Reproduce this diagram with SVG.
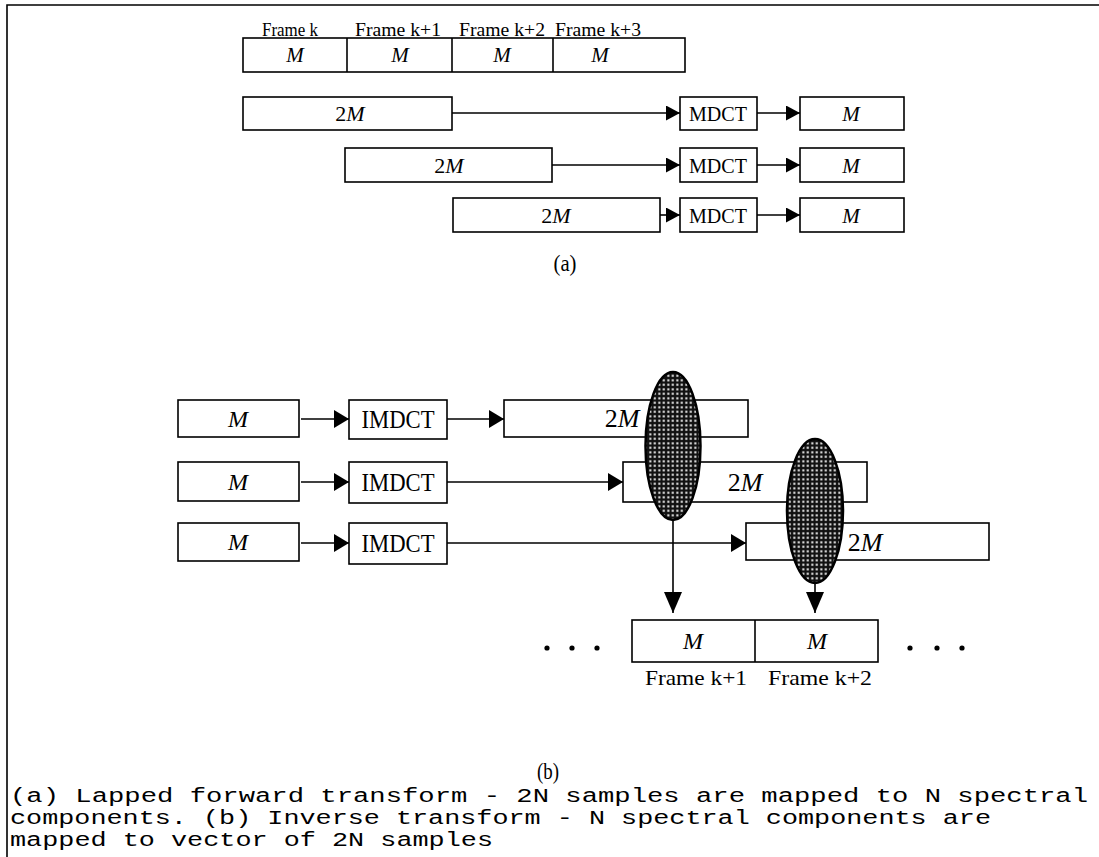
<svg xmlns="http://www.w3.org/2000/svg" width="1099" height="857" viewBox="0 0 1099 857">
<defs>
<style>
.box{fill:#fff;stroke:#000;stroke-width:1.6}
.ln{fill:none;stroke:#000;stroke-width:1.6}
.t{font-family:"Liberation Serif","Times New Roman",serif;fill:#000;text-anchor:middle}
.i{font-style:italic}
.cap{font-family:"Liberation Mono","Courier New",monospace;font-size:19.5px;fill:#000}
</style>
<marker id="ah" markerUnits="userSpaceOnUse" markerWidth="14" markerHeight="15" viewBox="0 0 14 15" refX="14" refY="7.5" orient="auto">
<path d="M0,0 L14,7.5 L0,15 z" fill="#000"/>
</marker>
<marker id="ahb" markerUnits="userSpaceOnUse" markerWidth="15" markerHeight="18" viewBox="0 0 15 18" refX="15" refY="9" orient="auto">
<path d="M0,0 L15,9 L0,18 z" fill="#000"/>
</marker>
<marker id="ahv" markerUnits="userSpaceOnUse" markerWidth="21" markerHeight="18" viewBox="0 0 21 18" refX="21" refY="9" orient="auto">
<path d="M0,0 L21,9 L0,18 z" fill="#000"/>
</marker>
<pattern id="hatch" width="4.5" height="4.5" patternUnits="userSpaceOnUse">
<rect width="4.5" height="4.5" fill="#111"/>
<rect x="1.3" y="1.3" width="2" height="2" fill="#fff"/>
</pattern>
</defs>
<rect width="1099" height="857" fill="#fff"/>
<g id="frame-border" class="ln"><path d="M1099,5 L7,5 L7,857"/></g>

<g id="top-frames">
<rect class="box" x="243" y="38" width="442" height="34"/>
<line class="ln" x1="347" y1="38" x2="347" y2="72"/>
<line class="ln" x1="452" y1="38" x2="452" y2="72"/>
<line class="ln" x1="553" y1="38" x2="553" y2="72"/>
<text class="t" x="290" y="36" font-size="19" textLength="56" lengthAdjust="spacingAndGlyphs">Frame k</text>
<text class="t" x="398" y="36" font-size="19" textLength="86" lengthAdjust="spacingAndGlyphs">Frame k+1</text>
<text class="t" x="502" y="36" font-size="19" textLength="86" lengthAdjust="spacingAndGlyphs">Frame k+2</text>
<text class="t" x="598" y="36" font-size="19" textLength="86" lengthAdjust="spacingAndGlyphs">Frame k+3</text>
<text class="t i" x="295" y="62" font-size="21">M</text>
<text class="t i" x="400" y="62" font-size="21">M</text>
<text class="t i" x="502" y="62" font-size="21">M</text>
<text class="t i" x="600" y="62" font-size="21">M</text>
</g>

<g id="a-in1"><rect class="box" x="243" y="97" width="209" height="33"/><text class="t" x="350" y="121" font-size="22">2<tspan font-style="italic">M</tspan></text></g>
<g id="a-in2"><rect class="box" x="345" y="148" width="207" height="34"/><text class="t" x="449" y="173" font-size="22">2<tspan font-style="italic">M</tspan></text></g>
<g id="a-in3"><rect class="box" x="453" y="198" width="207" height="34"/><text class="t" x="556" y="223" font-size="22">2<tspan font-style="italic">M</tspan></text></g>
<g id="a-mdct1"><rect class="box" x="680" y="97" width="77" height="33"/><text class="t" x="718" y="121" font-size="22" textLength="58" lengthAdjust="spacingAndGlyphs">MDCT</text></g>
<g id="a-mdct2"><rect class="box" x="680" y="148" width="77" height="34"/><text class="t" x="718" y="173" font-size="22" textLength="58" lengthAdjust="spacingAndGlyphs">MDCT</text></g>
<g id="a-mdct3"><rect class="box" x="680" y="198" width="77" height="34"/><text class="t" x="718" y="223" font-size="22" textLength="58" lengthAdjust="spacingAndGlyphs">MDCT</text></g>
<g id="a-out1"><rect class="box" x="800" y="97" width="104" height="33"/><text class="t i" x="851" y="121" font-size="21">M</text></g>
<g id="a-out2"><rect class="box" x="800" y="148" width="104" height="34"/><text class="t i" x="851" y="173" font-size="21">M</text></g>
<g id="a-out3"><rect class="box" x="800" y="198" width="104" height="34"/><text class="t i" x="851" y="223" font-size="21">M</text></g>
<g id="label-a"><text class="t" x="565" y="271" font-size="24" textLength="23" lengthAdjust="spacingAndGlyphs">(a)</text></g>

<g id="b-in1"><rect class="box" x="178" y="400" width="121" height="37"/><text class="t i" x="238" y="427" font-size="24">M</text></g>
<g id="b-in2"><rect class="box" x="178" y="462" width="121" height="39"/><text class="t i" x="238" y="490" font-size="24">M</text></g>
<g id="b-in3"><rect class="box" x="178" y="523" width="121" height="38"/><text class="t i" x="238" y="550" font-size="24">M</text></g>
<g id="b-imdct1"><rect class="box" x="349" y="400" width="98" height="39"/><text class="t" x="398" y="428" font-size="25" textLength="73" lengthAdjust="spacingAndGlyphs">IMDCT</text></g>
<g id="b-imdct2"><rect class="box" x="349" y="462" width="98" height="41"/><text class="t" x="398" y="491" font-size="25" textLength="73" lengthAdjust="spacingAndGlyphs">IMDCT</text></g>
<g id="b-imdct3"><rect class="box" x="349" y="523" width="98" height="41"/><text class="t" x="398" y="552" font-size="25" textLength="73" lengthAdjust="spacingAndGlyphs">IMDCT</text></g>
<g id="b-out1"><rect class="box" x="504" y="400" width="244" height="37"/><text class="t" x="622" y="427" font-size="26">2<tspan font-style="italic">M</tspan></text></g>
<g id="b-out2"><rect class="box" x="623" y="462" width="244" height="40"/><text class="t" x="745" y="491" font-size="26">2<tspan font-style="italic">M</tspan></text></g>
<g id="b-out3"><rect class="box" x="746" y="523" width="243" height="37"/><text class="t" x="865" y="551" font-size="26">2<tspan font-style="italic">M</tspan></text></g>

<g id="overlap1"><ellipse cx="673" cy="446" rx="27.5" ry="74" fill="url(#hatch)" stroke="#000" stroke-width="2.5"/></g>
<g id="overlap2"><ellipse cx="815" cy="511" rx="28" ry="72" fill="url(#hatch)" stroke="#000" stroke-width="2.5"/></g>

<g id="connectors" class="ln">
<line x1="452" y1="113" x2="680" y2="113" marker-end="url(#ah)"/>
<line x1="552" y1="165" x2="680" y2="165" marker-end="url(#ah)"/>
<line x1="660" y1="215" x2="680" y2="215" marker-end="url(#ah)"/>
<line x1="757" y1="113" x2="800" y2="113" marker-end="url(#ah)"/>
<line x1="757" y1="165" x2="800" y2="165" marker-end="url(#ah)"/>
<line x1="757" y1="215" x2="800" y2="215" marker-end="url(#ah)"/>
<line x1="301" y1="419" x2="349" y2="419" marker-end="url(#ahb)"/>
<line x1="301" y1="482" x2="349" y2="482" marker-end="url(#ahb)"/>
<line x1="301" y1="543" x2="349" y2="543" marker-end="url(#ahb)"/>
<line x1="447" y1="419" x2="504" y2="419" marker-end="url(#ahb)"/>
<line x1="447" y1="482" x2="623" y2="482" marker-end="url(#ahb)"/>
<line x1="447" y1="543" x2="746" y2="543" marker-end="url(#ahb)"/>
<line x1="673" y1="520" x2="673" y2="613" marker-end="url(#ahv)"/>
<line x1="815" y1="583" x2="815" y2="613" marker-end="url(#ahv)"/>
</g>

<g id="bottom-frames">
<rect class="box" x="632" y="620" width="246" height="42"/>
<line class="ln" x1="755" y1="620" x2="755" y2="662"/>
<text class="t i" x="693" y="649" font-size="24">M</text>
<text class="t i" x="817" y="649" font-size="24">M</text>
<text class="t" x="696" y="685" font-size="22" textLength="102" lengthAdjust="spacingAndGlyphs">Frame k+1</text>
<text class="t" x="820" y="685" font-size="22" textLength="104" lengthAdjust="spacingAndGlyphs">Frame k+2</text>
<g fill="#000"><circle cx="547" cy="648" r="2.6"/><circle cx="572" cy="648" r="2.6"/><circle cx="597" cy="648" r="2.6"/><circle cx="910" cy="648" r="2.6"/><circle cx="937" cy="648" r="2.6"/><circle cx="962" cy="648" r="2.6"/></g>
</g>
<g id="label-b"><text class="t" x="548" y="779" font-size="24" textLength="22" lengthAdjust="spacingAndGlyphs">(b)</text></g>
<g id="caption">
<text class="cap" x="10" y="802" textLength="1078" lengthAdjust="spacingAndGlyphs">(a) Lapped forward transform - 2N samples are mapped to N spectral</text>
<text class="cap" x="10" y="824" textLength="981" lengthAdjust="spacingAndGlyphs">components. (b) Inverse transform - N spectral components are</text>
<text class="cap" x="10" y="846" textLength="483" lengthAdjust="spacingAndGlyphs">mapped to vector of 2N samples</text>
</g>
</svg>
